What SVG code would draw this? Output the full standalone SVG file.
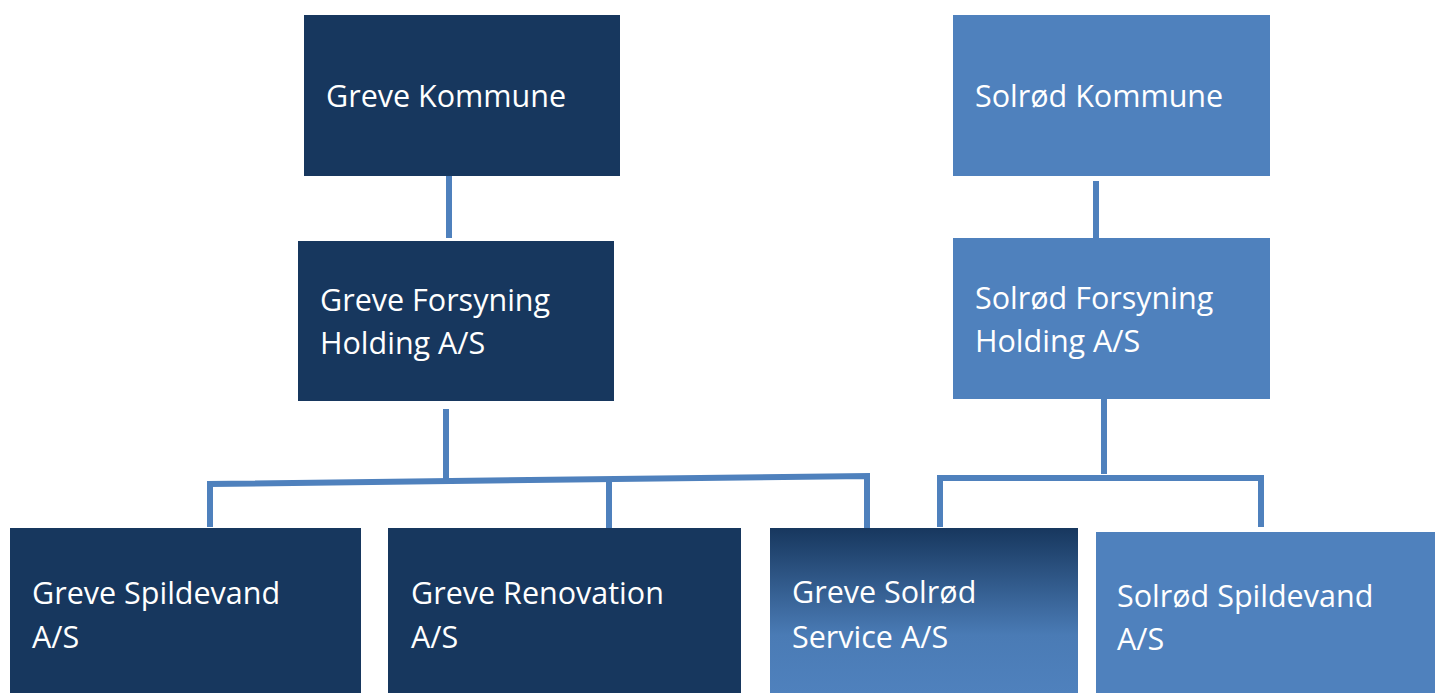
<svg xmlns="http://www.w3.org/2000/svg" width="1435" height="693" viewBox="0 0 1435 693">
<style>
.dark{fill:#17375E}
.light{fill:#4F81BD}
.t{fill:#FFFFFF;font-family:"Open Sans","Liberation Sans",sans-serif;font-size:30.5px}
.c{stroke:#4F81BD;stroke-width:6;fill:none}
</style>
<defs>
<linearGradient id="g1" x1="0" y1="0" x2="0" y2="1">
<stop offset="0" stop-color="#17375E"/>
<stop offset="0.65" stop-color="#4A7BB5"/>
<stop offset="1" stop-color="#4F81BD"/>
</linearGradient>
</defs>
<rect width="1435" height="693" fill="#FFFFFF"/>
<g id="connectors">
<line class="c" x1="449" y1="174" x2="449" y2="238"/>
<line class="c" x1="1096" y1="181" x2="1096" y2="238"/>
<line class="c" x1="446" y1="409" x2="446" y2="480"/>
<polyline class="c" points="210,527 210,484 867,476 867,528"/>
<line class="c" x1="609" y1="481" x2="609" y2="530"/>
<line class="c" x1="1104" y1="399" x2="1104" y2="474"/>
<polyline class="c" points="940,527 940,478 1261,478 1261,527"/>
</g>
<g id="greve-kommune">
<rect class="dark" x="304" y="15" width="316" height="161"/>
<text class="t" x="326" y="107">Greve Kommune</text>
</g>
<g id="solrod-kommune">
<rect class="light" x="953" y="15" width="317" height="161"/>
<text class="t" x="975" y="107">Solrød Kommune</text>
</g>
<g id="greve-forsyning">
<rect class="dark" x="298" y="241" width="316" height="160"/>
<text class="t" x="320" y="311">Greve Forsyning</text>
<text class="t" x="320" y="354">Holding A/S</text>
</g>
<g id="solrod-forsyning">
<rect class="light" x="953" y="238" width="317" height="161"/>
<text class="t" x="975" y="309">Solrød Forsyning</text>
<text class="t" x="975" y="352">Holding A/S</text>
</g>
<g id="greve-spildevand">
<rect class="dark" x="10" y="528" width="351" height="165"/>
<text class="t" x="32" y="604">Greve Spildevand</text>
<text class="t" x="32" y="648">A/S</text>
</g>
<g id="greve-renovation">
<rect class="dark" x="388" y="528" width="353" height="165"/>
<text class="t" x="411" y="604">Greve Renovation</text>
<text class="t" x="411" y="648">A/S</text>
</g>
<g id="greve-solrod-service">
<rect fill="url(#g1)" x="770" y="528" width="308" height="165"/>
<text class="t" x="792" y="603">Greve Solrød</text>
<text class="t" x="792" y="648">Service A/S</text>
</g>
<g id="solrod-spildevand">
<rect class="light" x="1096" y="532" width="339" height="161"/>
<text class="t" x="1117" y="607">Solrød Spildevand</text>
<text class="t" x="1117" y="650">A/S</text>
</g>
</svg>
